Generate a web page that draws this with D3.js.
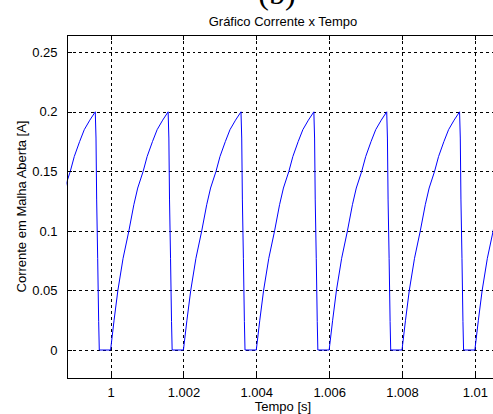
<!DOCTYPE html>
<html>
<head>
<meta charset="utf-8">
<script src="https://cdn.jsdelivr.net/npm/d3@7"></script>
<style>
  body { margin: 0; background: #fff; }
  svg { display: block; }
  .tick text { font-family: "Liberation Sans", Arial, sans-serif; font-size: 13px; fill: #000; }
</style>
</head>
<body>
<svg width="493" height="414"></svg>
<script>
"use strict";

// one period: offset from start of rise [s] -> current [A]
var cycleDt = [0, 0.000096, 0.0002, 0.000343, 0.000502, 0.000639, 0.000745, 0.000894, 0.001004, 0.00115, 0.001278, 0.00143, 0.00158,
               0.00160, 0.001618, 0.001646, 0.001673, 0.00169, 0.002];
var cycleI  = [0, 0.025, 0.05, 0.077, 0.1, 0.122, 0.136, 0.15, 0.1625, 0.175, 0.185, 0.193, 0.2,
               0.178, 0.126, 0.077, 0.024, 0, 0];
// instants where each rise starts
var cycleStarts = [0.998, 1.000, 1.002, 1.004, 1.006, 1.008, 1.010];

var xTicks = [1, 1.002, 1.004, 1.006, 1.008, 1.01];
var xTickLabels = ["1", "1.002", "1.004", "1.006", "1.008", "1.01"];
var yTicks = [0, 0.05, 0.1, 0.15, 0.2, 0.25];
var yTickLabels = ["0", "0.05", "0.1", "0.15", "0.2", "0.25"];

var svg = d3.select("svg");
var mLeft = 66.5, mRight = 500, mTop = 35, mBottom = 378;

var x = d3.scaleLinear().domain([0.99879, 1.01069]).range([mLeft, mRight]);
var y = d3.scaleLinear().domain([-0.0235, 0.2645]).range([mBottom, mTop]);

var points = [];
cycleStarts.forEach(function(t0) {
  cycleDt.forEach(function(dt, i) {
    points.push([t0 + dt, cycleI[i]]);
  });
});

svg.append("defs").append("clipPath").attr("id", "clip")
  .append("rect")
    .attr("x", mLeft).attr("y", mTop)
    .attr("width", mRight - mLeft).attr("height", mBottom - mTop);

// grid
var grid = svg.append("g").attr("stroke", "#000").attr("stroke-width", 1)
  .attr("stroke-dasharray", "3,3").attr("shape-rendering", "crispEdges");
grid.selectAll(".gx").data(xTicks).enter().append("line")
  .attr("x1", function(d) { return Math.round(x(d)) + 0.5; })
  .attr("x2", function(d) { return Math.round(x(d)) + 0.5; })
  .attr("y1", mTop).attr("y2", mBottom);
grid.selectAll(".gy").data(yTicks).enter().append("line")
  .attr("y1", function(d) { return Math.round(y(d)) + 0.5; })
  .attr("y2", function(d) { return Math.round(y(d)) + 0.5; })
  .attr("x1", mLeft).attr("x2", mRight);

// current curve
svg.append("path")
  .datum(points)
  .attr("clip-path", "url(#clip)")
  .attr("fill", "none")
  .attr("stroke", "#0000ff")
  .attr("stroke-width", 1)
  .attr("d", d3.line().x(function(d) { return x(d[0]); }).y(function(d) { return y(d[1]); }));

// axes (ticks inward, MATLAB style)
var xAxis = d3.axisBottom(x).tickValues(xTicks)
  .tickFormat(function(d, i) { return xTickLabels[i]; })
  .tickSizeInner(-5).tickSizeOuter(0).tickPadding(10);
var gx = svg.append("g").attr("transform", "translate(0," + mBottom + ")").call(xAxis);

var xAxisTop = d3.axisTop(x).tickValues(xTicks).tickFormat("").tickSizeInner(-5).tickSizeOuter(0);
var gxt = svg.append("g").attr("transform", "translate(0," + mTop + ")").call(xAxisTop);

var yAxis = d3.axisLeft(y).tickValues(yTicks)
  .tickFormat(function(d, i) { return yTickLabels[i]; })
  .tickSizeInner(-5).tickSizeOuter(0).tickPadding(9);
var gy = svg.append("g").attr("transform", "translate(" + mLeft + ",0)").call(yAxis);

[gx, gxt, gy].forEach(function(g) {
  g.selectAll("path, line").attr("stroke", "#000").attr("shape-rendering", "crispEdges");
});

// title and labels
svg.append("text")
  .attr("x", 277).attr("y", 4)
  .attr("text-anchor", "middle")
  .style("font-family", "'Liberation Serif', 'Times New Roman', serif")
  .style("font-size", "32px")
  .text("(b)");

svg.append("text")
  .attr("x", 283).attr("y", 26)
  .attr("text-anchor", "middle")
  .style("font-family", "'Liberation Sans', Arial, sans-serif")
  .style("font-size", "13px")
  .text("Gráfico Corrente x Tempo");

svg.append("text")
  .attr("x", 283).attr("y", 411)
  .attr("text-anchor", "middle")
  .style("font-family", "'Liberation Sans', Arial, sans-serif")
  .style("font-size", "13px")
  .text("Tempo [s]");

svg.append("text")
  .attr("transform", "translate(26," + ((mTop + mBottom) / 2) + ") rotate(-90)")
  .attr("text-anchor", "middle")
  .style("font-family", "'Liberation Sans', Arial, sans-serif")
  .style("font-size", "13px")
  .text("Corrente em Malha Aberta [A]");
</script>
</body>
</html>
